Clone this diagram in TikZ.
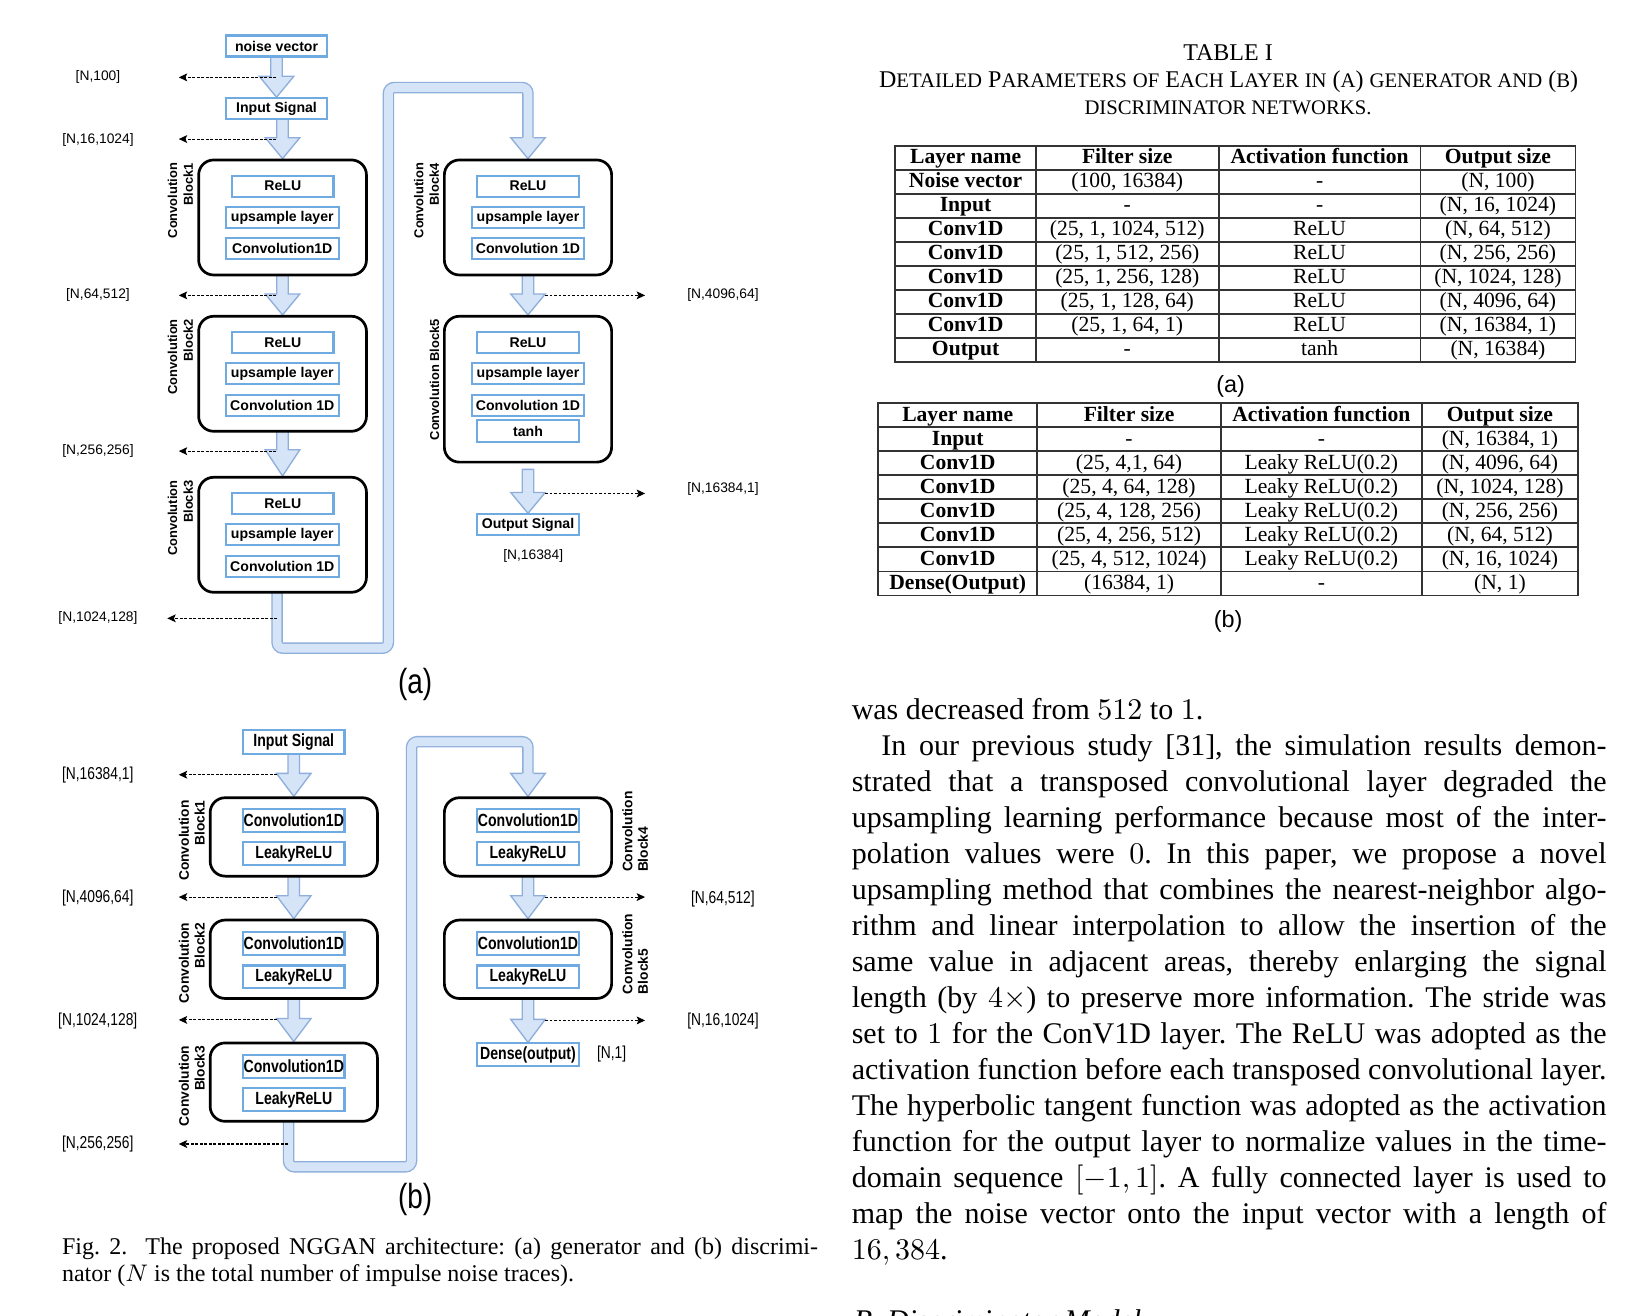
\documentclass[tikz,border=0pt]{standalone}
\usepackage[no-math]{fontspec}
\setmainfont{Liberation Serif}
\setsansfont{Liberation Sans}
\usepackage{graphicx}
\usetikzlibrary{arrows.meta,calc,backgrounds}
\frenchspacing
\definecolor{lblue}{HTML}{D6E4F7}
\definecolor{bblue}{HTML}{8EAEDB}
\definecolor{iblue}{HTML}{6FAAE0}
\newcommand\pxu{0.3485pt}
\newcommand\fsc[1]{{\fontsize{6.9}{8}\selectfont #1}}
\newcommand\tb[1]{\scalebox{1}[1.25]{#1}}
\newcommand\bx[7]{\node[#1, minimum width={(#5-#3)*\pxu}, minimum height={(#6-#4)*\pxu}] (#2) at ({(#3+#5)/2},{(#4+#6)/2}) {#7};}
% fat arrow: {head length}{from}{to}{start shift}
\newcommand\fatarr[4]{\draw[fatarrow] let \p1=($(#2.south)+(0,#4)$), \p2=(#3.north) in
  (\x2-5.5*\pxu,\y1) -- (\x2-5.5*\pxu,\y2+#1*\pxu) -- (\x2-16.5*\pxu,\y2+#1*\pxu) -- (\x2,\y2)
  -- (\x2+16.5*\pxu,\y2+#1*\pxu) -- (\x2+5.5*\pxu,\y2+#1*\pxu) -- (\x2+5.5*\pxu,\y1) -- cycle;}
\newcommand\fathd[2]{\draw[fathead] let \p2=(#1.north) in
  (\x2-5.5*\pxu,\y2+#2*\pxu) -- (\x2-16.5*\pxu,\y2+#2*\pxu) -- (\x2,\y2)
  -- (\x2+16.5*\pxu,\y2+#2*\pxu) -- (\x2+5.5*\pxu,\y2+#2*\pxu);}
\newcommand\rowa[5]{%
 \node[tcell] (ta#1c1) at (923.55,{139.5+#1*22.94-6}) {#2};
 \node[tcell] (ta#1c2) at (1078.2,{139.5+#1*22.94-6}) {#3};
 \node[tcell] (ta#1c3) at (1262.15,{139.5+#1*22.94-6}) {#4};
 \node[tcell] (ta#1c4) at (1432.7,{139.5+#1*22.94-6}) {#5};}
\newcommand\rowb[5]{%
 \node[tcell] (tb#1c1) at (916.05,{385.8+#1*22.96-6}) {#2};
 \node[tcell] (tb#1c2) at (1079.9,{385.8+#1*22.96-6}) {#3};
 \node[tcell] (tb#1c3) at (1263.85,{385.8+#1*22.96-6}) {#4};
 \node[tcell] (tb#1c4) at (1434.65,{385.8+#1*22.96-6}) {#5};}
\newcommand\jl[3]{\node[bodyl] (#1) at (814.1,#2) {\makebox[251.6pt][s]{#3}};}
\tikzset{
 inbox/.style={draw=iblue, line width=0.7pt, fill=white, inner sep=0pt, font=\sffamily\bfseries\fontsize{4.7}{5.5}\selectfont},
 blk/.style={draw=black, line width=0.9pt, rounded corners=5pt, fill=white, inner sep=0pt},
 rot/.style={rotate=90, inner sep=0pt, font=\sffamily\bfseries\fontsize{4.3}{5.2}\selectfont},
 lab/.style={inner sep=0pt, font=\sffamily\fontsize{4.6}{5.5}\selectfont},
 fatarrow/.style={fill=lblue, draw=bblue, line width=0.45pt},
 fathead/.style={fill=lblue, draw=bblue, line width=0.45pt},
 fatline/.style={draw=bblue, line width=0.45pt, double=lblue, double distance=2.93pt, rounded corners=2pt},
 dasharr/.style={draw=black, line width=0.35pt, dash pattern=on 0.9pt off 0.6pt, -{Stealth[length=2.8pt,width=2.6pt,inset=0.6pt]}},
 tline/.style={draw=black!80, line width=0.6pt},
 tcell/.style={anchor=base, inner sep=0pt, font=\fontsize{7.2}{8}\selectfont},
 bodyl/.style={anchor=base west, inner sep=0pt, font=\fontsize{10}{12}\selectfont},
 capl/.style={anchor=base west, inner sep=0pt, font=\fontsize{8}{9}\selectfont},
 subcap/.style={inner sep=0pt, font=\sffamily\fontsize{9.3}{11}\selectfont},
}
\begin{document}
\begin{tikzpicture}[x=0.3485pt,y=-0.3485pt]
\useasboundingbox (0,0) rectangle (1560,1257.8);

% ================= (a) generator =================
\bx{inbox}{nv}{216}{34}{313}{54}{noise vector}
\bx{inbox}{ins}{216}{94}{313}{114}{Input Signal}
\bx{blk}{blk1}{190}{153}{350.5}{263}{}
\bx{inbox}{relu1}{222}{168}{319}{188}{ReLU}
\bx{inbox}{up1}{216}{198}{324}{218}{upsample layer}
\bx{inbox}{cv1}{216}{228}{324}{248}{Convolution1D}
\bx{blk}{blk2}{190}{302.5}{350.5}{412.5}{}
\bx{inbox}{relu2}{222}{317.5}{319}{337.5}{ReLU}
\bx{inbox}{up2}{216}{347.5}{324}{367.5}{upsample layer}
\bx{inbox}{cv2}{216}{377.5}{324}{397.5}{Convolution 1D}
\bx{blk}{blk3}{190}{456.5}{350.5}{566.5}{}
\bx{inbox}{relu3}{222}{471.5}{319}{491.5}{ReLU}
\bx{inbox}{up3}{216}{501.5}{324}{521.5}{upsample layer}
\bx{inbox}{cv3}{216}{531.5}{324}{551.5}{Convolution 1D}
\bx{blk}{blk4}{425}{153}{585}{263}{}
\bx{inbox}{relu4}{456.5}{168}{553.5}{188}{ReLU}
\bx{inbox}{up4}{451.5}{198}{558.5}{218}{upsample layer}
\bx{inbox}{cv4}{451.5}{228}{558.5}{248}{Convolution 1D}
\bx{blk}{blk5}{425}{302.5}{585}{442}{}
\bx{inbox}{relu5}{456.5}{317.5}{553.5}{337.5}{ReLU}
\bx{inbox}{up5}{451.5}{347.5}{558.5}{367.5}{upsample layer}
\bx{inbox}{cv5}{451.5}{377.5}{558.5}{397.5}{Convolution 1D}
\bx{inbox}{tanh5}{456.5}{402}{553.5}{422.5}{tanh}
\bx{inbox}{outs}{456.5}{492}{553.5}{511.5}{Output Signal}

\node[rot, anchor=east, align=right] (lb1) at (172.5,155.4) {Convolution\\Block1};
\node[rot, anchor=east, align=right] (lb2) at (172.5,304.7) {Convolution\\Block2};
\node[rot, anchor=east, align=right] (lb3) at (172.5,459) {Convolution\\Block3};
\node[rot, anchor=east, align=right] (lb4) at (408,155.4) {Convolution\\Block4};
\node[rot, anchor=east] (lb5) at (415.5,304.7) {Convolution Block5};

\node[lab] (l100) at (93.7,74) {[N,100]};
\node[lab] (l16) at (93.7,133.5) {[N,16,1024]};
\node[lab] (l64) at (93.7,282.5) {[N,64,512]};
\node[lab] (l256) at (93.7,431.5) {[N,256,256]};
\node[lab] (l1024) at (93.7,591.4) {[N,1024,128]};
\node[lab] (l4096) at (691.5,282.5) {[N,4096,64]};
\node[lab] (l16384) at (691.5,467.5) {[N,16384,1]};
\node[lab] (lout) at (510,532) {[N,16384]};
\node[subcap] (capa) at (397,654.5) {\scalebox{1}[1.25]{(a)}};

\coordinate (d1s) at (264,74);   \coordinate (d1e) at (171,74);
\coordinate (d2s) at (264,133);  \coordinate (d2e) at (171,133);
\coordinate (d3s) at (264,282.5);\coordinate (d3e) at (171,282.5);
\coordinate (d4s) at (264,431.5);\coordinate (d4e) at (171,431.5);
\coordinate (d5s) at (265,591.4);\coordinate (d5e) at (160,591.4);
\coordinate (r1s) at (521.5,282.5);\coordinate (r1e) at (617,282.5);
\coordinate (r2s) at (521.5,472);\coordinate (r2e) at (617,472);

% ================= (b) discriminator =================
\bx{inbox}{insb}{232.5}{698.5}{329.5}{721}{\tb{Input Signal}}
\bx{blk}{bb1}{201}{763}{361}{838}{}
\bx{inbox}{cb1}{232.5}{774}{329.5}{795.5}{\tb{Convolution1D}}
\bx{inbox}{kb1}{232.5}{805.5}{329.5}{827.5}{\tb{LeakyReLU}}
\bx{blk}{bb2}{201}{880}{361}{955}{}
\bx{inbox}{cb2}{232.5}{891.5}{329.5}{913}{\tb{Convolution1D}}
\bx{inbox}{kb2}{232.5}{923.5}{329.5}{945}{\tb{LeakyReLU}}
\bx{blk}{bb3}{201}{997.5}{361}{1072.5}{}
\bx{inbox}{cb3}{232.5}{1009}{329.5}{1031}{\tb{Convolution1D}}
\bx{inbox}{kb3}{232.5}{1041}{329.5}{1063}{\tb{LeakyReLU}}
\bx{blk}{bb4}{425}{763}{585}{838}{}
\bx{inbox}{cb4}{456.5}{774}{553.5}{795.5}{\tb{Convolution1D}}
\bx{inbox}{kb4}{456.5}{805.5}{553.5}{827.5}{\tb{LeakyReLU}}
\bx{blk}{bb5}{425}{880}{585}{955}{}
\bx{inbox}{cb5}{456.5}{891.5}{553.5}{913}{\tb{Convolution1D}}
\bx{inbox}{kb5}{456.5}{923.5}{553.5}{945}{\tb{LeakyReLU}}
\bx{inbox}{dense}{456.5}{998}{553.5}{1019.5}{\tb{Dense(output)}}

\node[rot, anchor=east, align=right, font=\sffamily\bfseries\fontsize{4.6}{5.2}\selectfont] (lbb1) at (183.5,765) {Convolution\\Block1};
\node[rot, anchor=east, align=right, font=\sffamily\bfseries\fontsize{4.6}{5.2}\selectfont] (lbb2) at (183.5,882) {Convolution\\Block2};
\node[rot, anchor=east, align=right, font=\sffamily\bfseries\fontsize{4.6}{5.2}\selectfont] (lbb3) at (183.5,999.6) {Convolution\\Block3};
\node[rot, anchor=west, align=left, font=\sffamily\bfseries\fontsize{4.6}{5.2}\selectfont] (lbb4) at (607.5,834.6) {Convolution\\Block4};
\node[rot, anchor=west, align=left, font=\sffamily\bfseries\fontsize{4.6}{5.2}\selectfont] (lbb5) at (607.5,951.4) {Convolution\\Block5};

\node[lab] (m16384) at (93.5,741.5) {\tb{[N,16384,1]}};
\node[lab] (m4096) at (93.5,858.5) {\tb{[N,4096,64]}};
\node[lab] (m1024) at (93.5,976.3) {\tb{[N,1024,128]}};
\node[lab] (m256) at (93.5,1094.2) {\tb{[N,256,256]}};
\node[lab] (m64) at (691.4,859.5) {\tb{[N,64,512]}};
\node[lab] (m16) at (691.5,976.3) {\tb{[N,16,1024]}};
\node[lab] (mn1) at (585,1008.6) {\tb{[N,1]}};
\node[subcap] (capb) at (397,1146.8) {\scalebox{1}[1.25]{(b)}};

\coordinate (e1s) at (265,741);   \coordinate (e1e) at (171,741);
\coordinate (e2s) at (265,858);   \coordinate (e2e) at (171,858);
\coordinate (e3s) at (265,975.5); \coordinate (e3e) at (171,975.5);
\coordinate (e4s) at (275.6,1094.2); \coordinate (e4e) at (171,1094.2);
\coordinate (q1s) at (521.5,858); \coordinate (q1e) at (617,858);
\coordinate (q2s) at (521.5,976); \coordinate (q2e) at (617,976);

% ================= arrows on background =================
\begin{scope}[on background layer]
\fill[white] (0,0) rectangle (1560,1257.8);
\fatarr{20}{nv}{ins}{-1.5}
\fatarr{20}{ins}{blk1}{-1.5}
\fatarr{20}{blk1}{blk2}{-1.5}
\fatarr{25}{blk2}{blk3}{-1.5}
\fatarr{20}{blk4}{blk5}{-1.5}
\fatarr{20}{blk5}{outs}{5.6}
\draw[fatline] ($(blk3.south)+(-5.25,-3)$) -- (265,620) -- (371.5,620) -- (371.5,83.7) -- (505,83.7) -- ($(blk4.north)+(0,-19)$);
\fathd{blk4}{20}
\fatarr{22}{insb}{bb1}{-1.5}
\fatarr{22}{bb1}{bb2}{-1.5}
\fatarr{22}{bb2}{bb3}{-1.5}
\fatarr{22}{bb4}{bb5}{-1.5}
\fatarr{22}{bb5}{dense}{-1.5}
\draw[fatline] ($(bb3.south)+(-5,-3)$) -- (276,1116) -- (393.6,1116) -- (393.6,709.4) -- (505,709.4) -- ($(bb4.north)+(0,-21)$);
\fathd{bb4}{22}
\end{scope}

% dashed dimension arrows
\foreach \a in {d1,d2,d3,d4,d5,r1,r2,e1,e2,e3,e4,q1,q2}
  \draw[dasharr] (\a s) -- (\a e);

% ================= Table I =================
\node[anchor=base, inner sep=0pt, font=\fontsize{8}{9}\selectfont] (tcap1) at (1174.6,57.9) {TABLE I};
\node[anchor=base, inner sep=0pt, font=\fontsize{8}{9}\selectfont] (tcap2) at (1175.1,83.7) {D\fsc{ETAILED} P\fsc{ARAMETERS} \fsc{OF} E\fsc{ACH} L\fsc{AYER} \fsc{IN} (\fsc{A}) \fsc{GENERATOR AND} (\fsc{B})};
\node[anchor=base, inner sep=0pt, font=\fontsize{8}{9}\selectfont] (tcap3) at (1174.6,109.4) {\fsc{DISCRIMINATOR NETWORKS.}};

\draw[tline] (856.4,139.5) rectangle (1506.8,346);
\foreach \k in {1,...,8} \draw[tline] (856.4,{139.5+\k*22.94}) -- (1506.8,{139.5+\k*22.94});
\foreach \xx in {990.7,1165.7,1358.6} \draw[tline] (\xx,139.5) -- (\xx,346);
\rowa{1}{\textbf{Layer name}}{\textbf{Filter size}}{\textbf{Activation function}}{\textbf{Output size}}
\rowa{2}{\textbf{Noise vector}}{(100, 16384)}{-}{(N, 100)}
\rowa{3}{\textbf{Input}}{-}{-}{(N, 16, 1024)}
\rowa{4}{\textbf{Conv1D}}{(25, 1, 1024, 512)}{ReLU}{(N, 64, 512)}
\rowa{5}{\textbf{Conv1D}}{(25, 1, 512, 256)}{ReLU}{(N, 256, 256)}
\rowa{6}{\textbf{Conv1D}}{(25, 1, 256, 128)}{ReLU}{(N, 1024, 128)}
\rowa{7}{\textbf{Conv1D}}{(25, 1, 128, 64)}{ReLU}{(N, 4096, 64)}
\rowa{8}{\textbf{Conv1D}}{(25, 1, 64, 1)}{ReLU}{(N, 16384, 1)}
\rowa{9}{\textbf{Output}}{-}{tanh}{(N, 16384)}
\node[inner sep=0pt, font=\sffamily\fontsize{7.8}{9}\selectfont] (tlaba) at (1177,369.5) {(a)};

\draw[tline] (840,385.8) rectangle (1509.3,569.5);
\foreach \k in {1,...,7} \draw[tline] (840,{385.8+\k*22.96}) -- (1509.3,{385.8+\k*22.96});
\foreach \xx in {992.1,1167.7,1360} \draw[tline] (\xx,385.8) -- (\xx,569.5);
\rowb{1}{\textbf{Layer name}}{\textbf{Filter size}}{\textbf{Activation function}}{\textbf{Output size}}
\rowb{2}{\textbf{Input}}{-}{-}{(N, 16384, 1)}
\rowb{3}{\textbf{Conv1D}}{(25, 4,1, 64)}{Leaky ReLU(0.2)}{(N, 4096, 64)}
\rowb{4}{\textbf{Conv1D}}{(25, 4, 64, 128)}{Leaky ReLU(0.2)}{(N, 1024, 128)}
\rowb{5}{\textbf{Conv1D}}{(25, 4, 128, 256)}{Leaky ReLU(0.2)}{(N, 256, 256)}
\rowb{6}{\textbf{Conv1D}}{(25, 4, 256, 512)}{Leaky ReLU(0.2)}{(N, 64, 512)}
\rowb{7}{\textbf{Conv1D}}{(25, 4, 512, 1024)}{Leaky ReLU(0.2)}{(N, 16, 1024)}
\rowb{8}{\textbf{Dense(Output)}}{(16384, 1)}{-}{(N, 1)}
\node[inner sep=0pt, font=\sffamily\fontsize{7.8}{9}\selectfont] (tlabb) at (1174.6,594.4) {(b)};

% ================= body text =================
\node[bodyl] (b1) at (814.1,688) {was decreased from $512$ to $1$.};
\node[bodyl] (b2) at (842.5,722.4) {\makebox[241.7pt][s]{In our previous study [31], the simulation results demon-}};
\jl{b3}{756.9}{strated that a transposed convolutional layer degraded the}
\jl{b4}{791.3}{upsampling learning performance because most of the inter-}
\jl{b5}{825.7}{polation values were $0$. In this paper, we propose a novel}
\jl{b6}{860.2}{upsampling method that combines the nearest-neighbor algo-}
\jl{b7}{894.6}{rithm and linear interpolation to allow the insertion of the}
\jl{b8}{929.0}{same value in adjacent areas, thereby enlarging the signal}
\jl{b9}{963.4}{length (by $4\times$) to preserve more information. The stride was}
\jl{b10}{997.9}{set to $1$ for the ConV1D layer. The ReLU was adopted as the}
\jl{b11}{1032.3}{activation function before each transposed convolutional layer.}
\jl{b12}{1066.7}{The hyperbolic tangent function was adopted as the activation}
\jl{b13}{1101.2}{function for the output layer to normalize values in the time-}
\jl{b14}{1135.6}{domain sequence $[-1,1]$. A fully connected layer is used to}
\jl{b15}{1170.0}{map the noise vector onto the input vector with a length of}
\node[bodyl] (b16) at (814.1,1204.5) {$16,384$.};

\begin{scope}
\clip (0,0) rectangle (1560,1257.8);
\node[bodyl, font=\fontsize{10}{12}\selectfont\itshape] (bsec) at (816,1273) {B. Discriminator Model};
\end{scope}

% ================= figure caption =================
\node[capl] (fc1) at (58.8,1199.4) {\makebox[252pt][s]{Fig. 2.\hspace{6pt}The proposed NGGAN architecture: (a) generator and (b) discrimi-}};
\node[capl] (fc2) at (58.8,1225.8) {nator ($N$ is the total number of impulse noise traces).};
\end{tikzpicture}
\end{document}
